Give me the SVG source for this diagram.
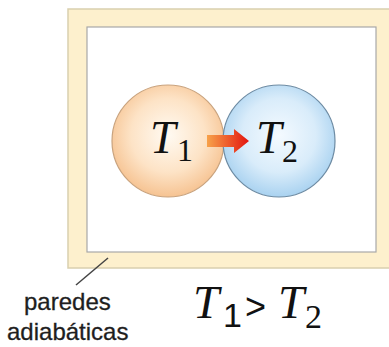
<svg xmlns="http://www.w3.org/2000/svg" width="389" height="347" viewBox="0 0 389 347">
<style>
.math{font-family:"Liberation Serif","DejaVu Serif",serif;font-style:italic;fill:#111}
.sub{font-family:"Liberation Serif","DejaVu Serif",serif;fill:#111}
.lbl{font-family:"Liberation Sans",Arial,sans-serif;font-size:24px;fill:#1e1e1e;stroke:#1e1e1e;stroke-width:0.3}
</style>
<defs>
<radialGradient id="gOr" cx="0.5" cy="0.45" r="0.55">
<stop offset="0" stop-color="#fffaf2"/><stop offset="0.6" stop-color="#fde3c6"/><stop offset="1" stop-color="#f6c392"/>
</radialGradient>
<radialGradient id="gBl" cx="0.5" cy="0.45" r="0.55">
<stop offset="0" stop-color="#f4faff"/><stop offset="0.6" stop-color="#d9ecfa"/><stop offset="1" stop-color="#a9d2f0"/>
</radialGradient>
<linearGradient id="gAr" x1="0" y1="0" x2="1" y2="0">
<stop offset="0" stop-color="#f7a24a"/><stop offset="1" stop-color="#e3140e"/>
</linearGradient>
</defs>
<g id="frame">
<rect x="68" y="9" width="330" height="259" fill="#fdf0cd" stroke="#d9cfae" stroke-width="1.5"/>
<rect x="87" y="27" width="289" height="225" fill="#ffffff" stroke="#a8a8a8" stroke-width="1.2"/>
</g>
<g id="ball1">
<circle cx="168" cy="141" r="56" fill="url(#gOr)" stroke="#c9a37e" stroke-width="1.2"/>
<text class="math" x="150" y="153" font-size="46">T</text>
<text class="sub" x="177" y="161" font-size="32">1</text>
</g>
<g id="ball2">
<circle cx="279" cy="141" r="56" fill="url(#gBl)" stroke="#6d8ba3" stroke-width="1.2"/>
<text class="math" x="256" y="153" font-size="46">T</text>
<text class="sub" x="282" y="162" font-size="32">2</text>
</g>
<g id="connectors">
<polygon points="207,135 234,135 234,129 249,141 234,153 234,147 207,147" fill="url(#gAr)"/>
<line x1="108" y1="258" x2="76" y2="285" stroke="#444" stroke-width="1.5"/>
</g>
<g id="label">
<text class="lbl" x="24" y="310">paredes</text>
<text class="lbl" x="7" y="340">adiabáticas</text>
</g>
<g id="relation">
<text class="math" x="193" y="318" font-size="47">T</text>
<text font-family="Liberation Sans,Arial,sans-serif" font-size="34" fill="#111" x="223" y="327">1</text>
<text font-family="Liberation Sans,Arial,sans-serif" font-size="36" fill="#111" x="245" y="319">&gt;</text>
<text class="math" x="278" y="318" font-size="47">T</text>
<text class="sub" x="305" y="328" font-size="34">2</text>
</g>
</svg>
